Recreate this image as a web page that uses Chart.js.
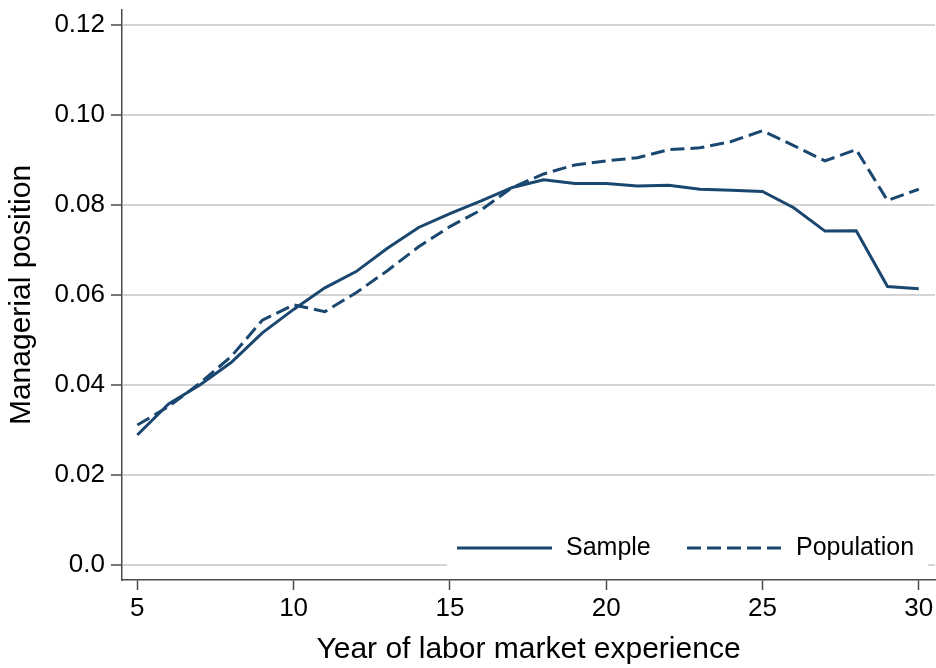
<!DOCTYPE html>
<html>
<head>
<meta charset="utf-8">
<script src="https://cdn.jsdelivr.net/npm/chart.js@4.4.1/dist/chart.umd.min.js"></script>
<style>
  html, body { margin: 0; padding: 0; background: #fff; }
  #wrap { width: 936px; height: 668px; }
</style>
</head>
<body>
<div id="wrap"><canvas id="chart" width="936" height="668"></canvas></div>
<script>
// data
const years = [5, 6, 7, 8, 9, 10, 11, 12, 13, 14, 15, 16, 17, 18, 19, 20, 21, 22, 23, 24, 25, 26, 27, 28, 29, 30];
const sample = [0.0289, 0.0358, 0.0400, 0.0450, 0.0516, 0.0568, 0.0616, 0.0652, 0.0704, 0.0750, 0.0781, 0.0809, 0.0839, 0.0856, 0.0848, 0.0848, 0.0842, 0.0844, 0.0835, 0.0833, 0.0830, 0.0794, 0.0742, 0.0743, 0.0619, 0.0614];
const population = [0.0311, 0.0352, 0.0404, 0.0463, 0.0544, 0.0578, 0.0563, 0.0605, 0.0654, 0.0707, 0.0752, 0.0789, 0.0839, 0.0869, 0.0889, 0.0898, 0.0905, 0.0923, 0.0927, 0.0941, 0.0965, 0.0932, 0.0898, 0.0923, 0.0810, 0.0835];
const xTicks = [5, 10, 15, 20, 25, 30];
const yTicks = [0, 0.02, 0.04, 0.06, 0.08, 0.10, 0.12];

const lineColor = "#1a476f";
const axisColor = "#4a4a4a";
const FONT = "'Liberation Sans', Arial, sans-serif";

function toPoints(vals) {
  return years.map((x, i) => ({ x: x, y: vals[i] }));
}

// legend drawn inside the plot, bottom right, on a white box
const insideLegend = {
  id: "insideLegend",
  afterDatasetsDraw(chart) {
    const ctx = chart.ctx;
    const a = chart.chartArea;
    const y = a.bottom - 32;
    ctx.save();
    ctx.fillStyle = "#fff";
    ctx.fillRect(a.right - 488, y - 20, 481, 38);
    ctx.strokeStyle = lineColor;
    ctx.lineWidth = 3;
    chart.data.datasets.forEach((ds, i) => {
      const x0 = a.right - 478 + i * 230;
      ctx.setLineDash(ds.borderDash || []);
      ctx.beginPath();
      ctx.moveTo(x0, y);
      ctx.lineTo(x0 + 95, y);
      ctx.stroke();
      ctx.setLineDash([]);
      ctx.fillStyle = "#000";
      ctx.font = "25px " + FONT;
      ctx.textBaseline = "middle";
      ctx.textAlign = "left";
      ctx.fillText(ds.label, x0 + 109, y);
    });
    ctx.restore();
  }
};

new Chart(document.getElementById("chart"), {
  type: "line",
  data: {
    datasets: [
      {
        label: "Sample",
        data: toPoints(sample),
        borderColor: lineColor,
        borderWidth: 3,
        pointRadius: 0,
        fill: false,
        tension: 0
      },
      {
        label: "Population",
        data: toPoints(population),
        borderColor: lineColor,
        borderWidth: 3,
        borderDash: [14, 6],
        pointRadius: 0,
        fill: false,
        tension: 0
      }
    ]
  },
  options: {
    responsive: false,
    animation: false,
    layout: { padding: { top: 10, right: 1, left: 0, bottom: 0 } },
    plugins: {
      legend: { display: false },
      tooltip: { enabled: false }
    },
    scales: {
      x: {
        type: "linear",
        min: 4.51,
        max: 30.52,
        afterBuildTicks: s => { s.ticks = xTicks.map(v => ({ value: v })); },
        afterFit: s => { s.height = 88; s.paddingLeft = 0; s.paddingRight = 0; },
        border: { color: axisColor, width: 1.5 },
        grid: { drawOnChartArea: false, drawTicks: true, tickLength: 10, tickColor: axisColor, tickWidth: 1.5 },
        ticks: { color: "#000", font: { family: FONT, size: 26 }, padding: 3, maxRotation: 0 },
        title: { display: true, text: "Year of labor market experience", color: "#000", font: { family: FONT, size: 30 }, padding: { top: 0, bottom: 0 } }
      },
      y: {
        min: -0.00333,
        max: 0.12333,
        afterBuildTicks: s => { s.ticks = yTicks.map(v => ({ value: v })); },
        afterFit: s => { s.width = 122; s.paddingTop = 0; s.paddingBottom = 0; },
        border: { color: axisColor, width: 1.5 },
        grid: { color: "#d4d4d4", lineWidth: 2, tickLength: 11, tickColor: axisColor, tickWidth: 1.5 },
        ticks: {
          color: "#000",
          font: { family: FONT, size: 26 },
          padding: 6,
          callback: v => v === 0 ? "0.0" : v.toFixed(2)
        },
        title: { display: true, text: "Managerial position", color: "#000", font: { family: FONT, size: 30 }, padding: { top: 4, bottom: 0 } }
      }
    }
  },
  plugins: [insideLegend]
});
</script>
</body>
</html>
